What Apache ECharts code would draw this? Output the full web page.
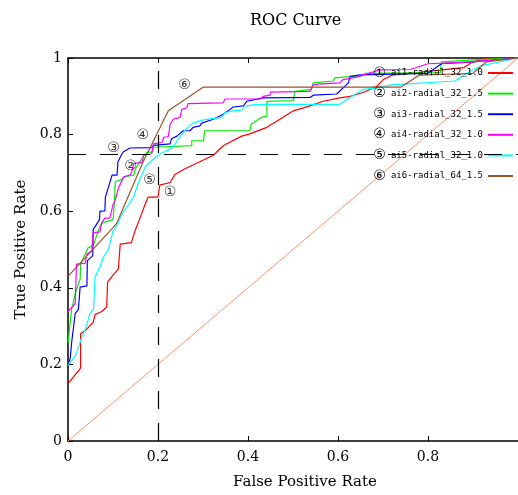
<!DOCTYPE html>
<html>
<head>
<meta charset="utf-8">
<script src="https://cdn.jsdelivr.net/npm/echarts@6/dist/echarts.min.js"></script>
<style>
html,body{margin:0;padding:0;background:#fff;}
#main{width:518px;height:495px;}
</style>
</head>
<body>
<div id="main"></div>
<script type="text/javascript">
// 曲线数据 [FPR, TPR]
var ai1 = [[0,0.15],[0.028,0.19],[0.028,0.28],[0.04,0.29],[0.056,0.31],[0.06,0.33],[0.075,0.338],[0.086,0.35],[0.088,0.415],[0.1,0.433],[0.112,0.449],[0.116,0.514],[0.141,0.518],[0.149,0.549],[0.16,0.582],[0.171,0.617],[0.178,0.637],[0.2,0.637],[0.204,0.668],[0.227,0.675],[0.238,0.696],[0.26,0.711],[0.293,0.729],[0.323,0.746],[0.345,0.771],[0.353,0.776],[0.386,0.796],[0.404,0.802],[0.442,0.819],[0.471,0.84],[0.501,0.862],[0.538,0.875],[0.567,0.887],[0.604,0.896],[0.627,0.9],[0.656,0.91],[0.686,0.926],[0.7,0.943],[0.72,0.955],[0.8,0.965],[0.88,0.975],[0.9,0.99],[0.93,1],[1,1]];
var ai2 = [[0,0.256],[0.008,0.343],[0.016,0.385],[0.027,0.423],[0.028,0.462],[0.045,0.505],[0.056,0.51],[0.071,0.561],[0.078,0.57],[0.1,0.578],[0.103,0.621],[0.105,0.677],[0.116,0.681],[0.127,0.69],[0.146,0.694],[0.15,0.711],[0.164,0.737],[0.176,0.754],[0.187,0.754],[0.19,0.767],[0.275,0.771],[0.275,0.784],[0.301,0.784],[0.304,0.81],[0.404,0.81],[0.407,0.827],[0.43,0.845],[0.442,0.849],[0.442,0.887],[0.501,0.889],[0.504,0.913],[0.541,0.918],[0.545,0.935],[0.59,0.94],[0.593,0.948],[0.656,0.954],[0.66,0.96],[0.827,0.962],[0.83,0.99],[0.9,0.995],[1,1]];
var ai3 = [[0,0.198],[0.005,0.217],[0.008,0.256],[0.016,0.333],[0.023,0.343],[0.027,0.402],[0.042,0.405],[0.043,0.471],[0.055,0.484],[0.056,0.552],[0.07,0.578],[0.071,0.6],[0.082,0.601],[0.083,0.636],[0.098,0.694],[0.109,0.694],[0.111,0.729],[0.12,0.75],[0.124,0.756],[0.138,0.765],[0.186,0.766],[0.19,0.772],[0.227,0.776],[0.23,0.789],[0.242,0.796],[0.256,0.81],[0.271,0.81],[0.278,0.819],[0.293,0.823],[0.297,0.83],[0.323,0.84],[0.345,0.853],[0.356,0.862],[0.367,0.872],[0.39,0.875],[0.397,0.887],[0.434,0.896],[0.538,0.897],[0.545,0.903],[0.597,0.906],[0.623,0.935],[0.627,0.952],[0.65,0.956],[0.8,0.96],[0.83,0.985],[0.9,0.99],[1,1]];
var ai4 = [[0,0.338],[0.016,0.359],[0.019,0.462],[0.038,0.464],[0.042,0.488],[0.053,0.497],[0.056,0.544],[0.071,0.546],[0.075,0.57],[0.082,0.582],[0.093,0.582],[0.1,0.617],[0.104,0.625],[0.112,0.66],[0.124,0.69],[0.138,0.695],[0.142,0.703],[0.146,0.724],[0.165,0.728],[0.168,0.746],[0.186,0.75],[0.19,0.776],[0.209,0.78],[0.213,0.793],[0.223,0.795],[0.227,0.827],[0.234,0.84],[0.249,0.845],[0.253,0.866],[0.264,0.87],[0.267,0.881],[0.345,0.883],[0.349,0.893],[0.427,0.893],[0.434,0.9],[0.449,0.903],[0.45,0.911],[0.538,0.913],[0.545,0.93],[0.556,0.932],[0.604,0.935],[0.61,0.943],[0.641,0.95],[0.693,0.969],[0.76,0.97],[0.8,0.985],[0.9,0.99],[1,1]];
var ai5 = [[0,0.198],[0.016,0.222],[0.024,0.247],[0.031,0.273],[0.038,0.29],[0.049,0.333],[0.057,0.346],[0.06,0.428],[0.071,0.454],[0.078,0.479],[0.09,0.501],[0.1,0.548],[0.112,0.57],[0.116,0.582],[0.124,0.6],[0.135,0.617],[0.146,0.638],[0.157,0.677],[0.164,0.694],[0.172,0.716],[0.194,0.741],[0.205,0.75],[0.227,0.762],[0.238,0.775],[0.249,0.795],[0.264,0.816],[0.278,0.83],[0.293,0.836],[0.308,0.84],[0.342,0.845],[0.349,0.857],[0.367,0.862],[0.386,0.864],[0.397,0.875],[0.419,0.879],[0.604,0.879],[0.62,0.892],[0.656,0.918],[0.686,0.922],[0.72,0.93],[0.86,0.94],[0.9,0.97],[0.92,0.98],[1,1]];
var ai6 = [[0,0.43],[0.1,0.557],[0.108,0.568],[0.167,0.729],[0.223,0.862],[0.301,0.924],[0.74,0.924],[0.78,0.955],[0.9,0.96],[0.93,0.99],[1,1]];
var chance = [[0,0],[1,1]];

var seriesNames = ['ai1-radial_32_1.0','ai2-radial_32_1.5','ai3-radial_32_1.5','ai4-radial_32_1.0','ai5-radial_32_1.0','ai6-radial_64_1.5'];
var seriesMarks = ['\u2460','\u2461','\u2462','\u2463','\u2464','\u2465'];
var seriesColors = ['#ff0000','#00ee00','#0000ff','#ff00ff','#00ffff','#a0522d'];
// 曲线旁的编号标注位置 [FPR, TPR, 编号]
var markLabels = [[0.227,0.649,'\u2460'],[0.139,0.716,'\u2461'],[0.101,0.765,'\u2462'],[0.166,0.797,'\u2463'],[0.181,0.681,'\u2464'],[0.259,0.929,'\u2465']];
var cutX = 0.2;
var cutY = 0.75;
var xTicks = ['0','0.2','0.4','0.6','0.8','1'];
var yTicks = ['0','0.2','0.4','0.6','0.8','1'];

var curves = [ai1, ai2, ai3, ai4, ai5, ai6];
var serif = 'DejaVu Serif';
var circleFont = 'DejaVu Sans';

function tickText(list){
	return function(v){
		return list[Math.round(v / 0.2)];
	};
}

var series = [];
for (var i = 0; i < curves.length; i++) {
	series.push({
		name: seriesNames[i],
		type: 'line',
		data: curves[i],
		symbol: 'none',
		color: seriesColors[i],
		lineStyle: { width: 1.2, color: seriesColors[i] },
		z: 3
	});
}
series.push({
	name: 'chance',
	type: 'line',
	data: chance,
	symbol: 'none',
	lineStyle: { width: 1, color: '#ff9070' },
	z: 2,
	markLine: {
		silent: true,
		symbol: 'none',
		animation: false,
		label: { show: false },
		lineStyle: { color: '#000', width: 1.2, type: [18, 14] },
		data: [{ xAxis: cutX }, { yAxis: cutY }]
	}
});
series.push({
	name: 'marks',
	type: 'scatter',
	data: markLabels,
	symbolSize: 0,
	silent: true,
	z: 5,
	label: {
		show: true,
		position: 'inside',
		fontFamily: circleFont,
		fontSize: 14,
		color: '#000',
		formatter: function(p){ return p.value[2]; }
	}
});

var myChart = echarts.init(document.getElementById('main'));
var option = {
	animation: false,
	backgroundColor: '#fff',
	title: {
		text: 'ROC Curve',
		left: 250,
		top: 13,
		padding: 0,
		textStyle: { fontFamily: serif, fontSize: 16, fontWeight: 'normal', color: '#000' }
	},
	legend: {
		orient: 'vertical',
		right: 0,
		top: 61,
		align: 'right',
		icon: 'rect',
		itemWidth: 25,
		itemHeight: 2,
		itemGap: 6.6,
		data: seriesNames,
		formatter: function(name){
			var k = seriesNames.indexOf(name);
			return '{n|' + seriesMarks[k] + '}{t|' + name + '}';
		},
		textStyle: {
			rich: {
				n: { fontFamily: circleFont, fontSize: 14, color: '#000', lineHeight: 14, padding: [0, 5, 0, 0] },
				t: { fontFamily: 'DejaVu Sans Mono', fontSize: 9, color: '#000', lineHeight: 14 }
			}
		}
	},
	grid: { left: 68, right: 0, top: 58, bottom: 49, containLabel: false },
	xAxis: [{
		type: 'value',
		min: 0, max: 1, interval: 0.2,
		name: 'False Positive Rate',
		nameLocation: 'middle',
		nameGap: 34,
		nameTextStyle: { fontFamily: serif, fontSize: 15, color: '#000', padding: [0, 0, 0, 24] },
		axisLine: { lineStyle: { color: '#000', width: 1.5 } },
		axisTick: { inside: true, length: 5, lineStyle: { color: '#000' } },
		axisLabel: { fontFamily: serif, fontSize: 14, color: '#000', margin: 9, showMaxLabel: false, formatter: tickText(xTicks) },
		splitLine: { show: false }
	}, {
		type: 'value',
		position: 'top',
		min: 0, max: 1, interval: 0.2,
		axisLine: { show: true, lineStyle: { color: '#000', width: 1.5 } },
		axisTick: { inside: true, length: 5, lineStyle: { color: '#000' } },
		axisLabel: { show: false },
		splitLine: { show: false }
	}],
	yAxis: {
		type: 'value',
		min: 0, max: 1, interval: 0.2,
		name: 'True Positive Rate',
		nameLocation: 'middle',
		nameGap: 39,
		nameTextStyle: { fontFamily: serif, fontSize: 15, color: '#000' },
		axisLine: { show: true, lineStyle: { color: '#000', width: 1.5 } },
		axisTick: { show: true, inside: true, length: 5, lineStyle: { color: '#000' } },
		axisLabel: { fontFamily: serif, fontSize: 14, color: '#000', margin: 6, formatter: tickText(yTicks) },
		splitLine: { show: false }
	},
	series: series
};
myChart.setOption(option);
</script>
</body>
</html>
